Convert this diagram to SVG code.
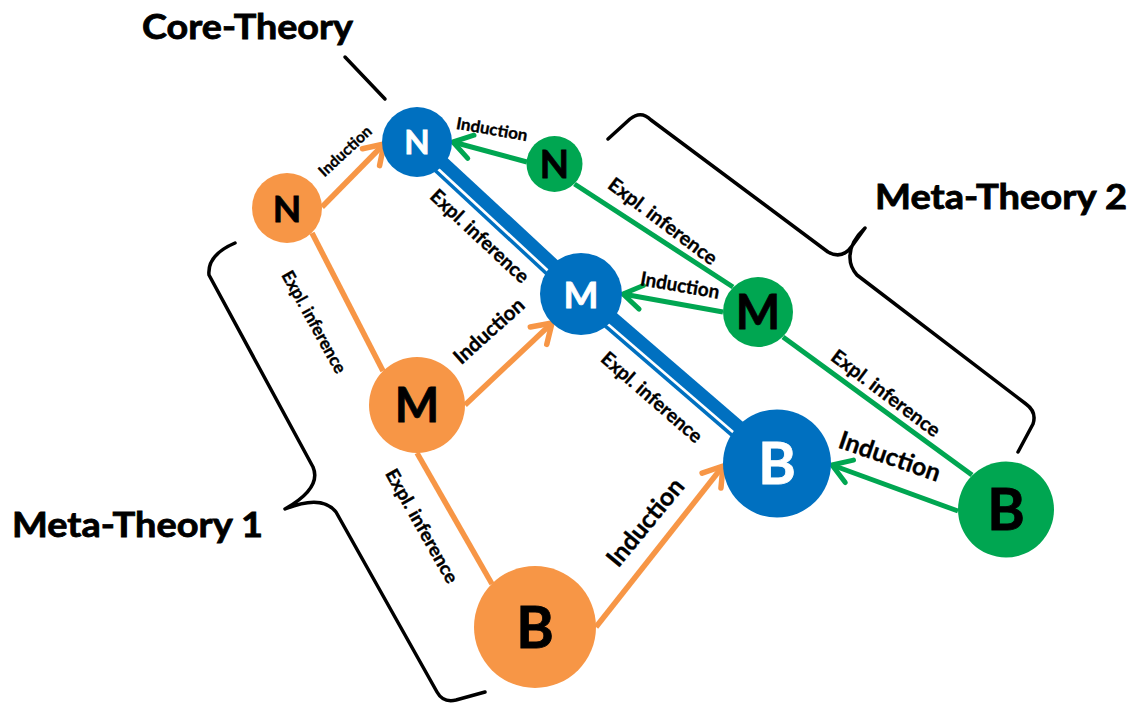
<svg xmlns="http://www.w3.org/2000/svg" width="1133" height="704" viewBox="0 0 1133 704">
  <style>
    .ttl { font-family: Lato, "Liberation Sans", sans-serif; font-weight: bold; font-size: 34px; fill: #000; stroke: #000; stroke-width: 0.8px; }
    .lbl { font-family: Lato, "Liberation Sans", sans-serif; font-weight: bold; fill: #000; stroke: #000; stroke-width: 0.35px; text-anchor: middle; }
    .ltr { font-family: Lato, "Liberation Sans", sans-serif; font-weight: bold; text-anchor: middle; stroke-width: 0.8px; }
    .brace { fill: none; stroke: #000; stroke-width: 3.5; stroke-linecap: round; stroke-linejoin: round; }
    .orange { fill: #F79646; }
    .blue { fill: #0070C0; }
    .green { fill: #00A651; }
    .c-or { stroke: #F79646; stroke-width: 5.5; fill: none; }
    .c-gr { stroke: #00A651; stroke-width: 5; fill: none; }
    .c-bl { stroke: #0070C0; fill: none; }
  </style>
  <defs>
    <marker id="arrOr" markerUnits="userSpaceOnUse" viewBox="-24 -16 28 32" refX="0" refY="0" markerWidth="28" markerHeight="32" orient="auto">
      <path d="M -18.5,-12 L 0,0 L -18.5,12" fill="none" stroke="#F79646" stroke-width="5.5" stroke-linecap="round" stroke-linejoin="round"/>
    </marker>
    <marker id="arrGr" markerUnits="userSpaceOnUse" viewBox="-24 -16 28 32" refX="0" refY="0" markerWidth="28" markerHeight="32" orient="auto">
      <path d="M -18.5,-12 L 0,0 L -18.5,12" fill="none" stroke="#00A651" stroke-width="5" stroke-linecap="round" stroke-linejoin="round"/>
    </marker>
  </defs>

  <!-- theory titles and braces -->
  <g id="core-theory">
    <text class="ttl" x="142" y="39" textLength="211" lengthAdjust="spacingAndGlyphs">Core-Theory</text>
    <line x1="345" y1="57" x2="385" y2="99" class="brace"/>
  </g>
  <g id="meta-theory-1">
    <text class="ttl" x="12" y="537" textLength="251" lengthAdjust="spacingAndGlyphs">Meta-Theory 1</text>
    <path class="brace" d="M 235,243 Q 207,255 209,275 L 313,467 Q 322,488 285,509 Q 322,494 336,512 L 437,692 Q 443,703 456,700 L 485,692"/>
  </g>
  <g id="meta-theory-2">
    <text class="ttl" x="875" y="209" textLength="252" lengthAdjust="spacingAndGlyphs">Meta-Theory 2</text>
    <path class="brace" d="M 608,139 L 630,119 Q 641,110 651,120 L 828,252 Q 842,260 852,246 L 865,228 Q 849,243 850,258 Q 850,267 857,275 L 1026,404 Q 1037,412 1033,424 L 1018,452"/>
  </g>

  <!-- connectors -->
  <g id="connectors">
    <!-- core theory: thick band with a thin companion line -->
    <line class="c-bl" x1="418.7" y1="140.2" x2="582.7" y2="292.2" stroke-width="13"/>
    <line class="c-bl" x1="411.2" y1="148.2" x2="575.2" y2="300.2" stroke-width="3.5"/>
    <line class="c-bl" x1="582.6" y1="292.1" x2="778.6" y2="461.1" stroke-width="13"/>
    <line class="c-bl" x1="575.5" y1="300.4" x2="771.5" y2="469.4" stroke-width="3.5"/>

    <!-- meta-theory 1 -->
    <line class="c-or" x1="312" y1="233" x2="383" y2="371"/>
    <line class="c-or" x1="417" y1="453" x2="492" y2="584"/>
    <line class="c-or" x1="322" y1="207" x2="384" y2="144" marker-end="url(#arrOr)"/>
    <line class="c-or" x1="465" y1="405" x2="552" y2="323" marker-end="url(#arrOr)"/>
    <line class="c-or" x1="596" y1="627" x2="723" y2="466" marker-end="url(#arrOr)"/>

    <!-- meta-theory 2 -->
    <line class="c-gr" x1="574.5" y1="184" x2="733" y2="287"/>
    <line class="c-gr" x1="783" y1="337" x2="972" y2="475"/>
    <line class="c-gr" x1="527" y1="162" x2="453" y2="142" marker-end="url(#arrGr)"/>
    <line class="c-gr" x1="723" y1="312" x2="623" y2="294" marker-end="url(#arrGr)"/>
    <line class="c-gr" x1="958" y1="511" x2="832" y2="465" marker-end="url(#arrGr)"/>
  </g>

  <!-- connector labels -->
  <g id="labels">
    <text class="lbl" transform="translate(345,151) rotate(-43)" y="5.5" font-size="15.5" textLength="66" lengthAdjust="spacingAndGlyphs">Induction</text>
    <text class="lbl" transform="translate(492,129) rotate(10)" y="6" font-size="16.5" textLength="72" lengthAdjust="spacingAndGlyphs">Induction</text>
    <text class="lbl" transform="translate(680,285) rotate(10)" y="7" font-size="19.5" textLength="80" lengthAdjust="spacingAndGlyphs">Induction</text>
    <text class="lbl" transform="translate(489,331) rotate(-42)" y="7" font-size="20.5" textLength="87" lengthAdjust="spacingAndGlyphs">Induction</text>
    <text class="lbl" transform="translate(890,456) rotate(19)" y="9" font-size="25" textLength="106" lengthAdjust="spacingAndGlyphs">Induction</text>
    <text class="lbl" transform="translate(645,522) rotate(-50.5)" y="9" font-size="25" textLength="106" lengthAdjust="spacingAndGlyphs">Induction</text>

    <text class="lbl" transform="translate(314,322) rotate(61)" y="6" font-size="17.5" textLength="114" lengthAdjust="spacingAndGlyphs">Expl. inference</text>
    <text class="lbl" transform="translate(422,526) rotate(60.5)" y="6.5" font-size="18.5" textLength="128" lengthAdjust="spacingAndGlyphs">Expl. inference</text>
    <text class="lbl" transform="translate(480,236) rotate(43)" y="7" font-size="19.5" textLength="127" lengthAdjust="spacingAndGlyphs">Expl. inference</text>
    <text class="lbl" transform="translate(652,397) rotate(41)" y="7" font-size="19.5" textLength="127" lengthAdjust="spacingAndGlyphs">Expl. inference</text>
    <text class="lbl" transform="translate(663,221) rotate(37)" y="7" font-size="19.5" textLength="131" lengthAdjust="spacingAndGlyphs">Expl. inference</text>
    <text class="lbl" transform="translate(886,393) rotate(37)" y="7" font-size="19.5" textLength="131" lengthAdjust="spacingAndGlyphs">Expl. inference</text>
  </g>

  <!-- core theory nodes -->
  <g id="core-N">
    <circle class="blue" cx="417" cy="142" r="35"/>
    <text class="ltr" x="417" y="154" font-size="33" fill="#fff" stroke="#fff">N</text>
  </g>
  <g id="core-M">
    <circle class="blue" cx="581" cy="294" r="41"/>
    <text class="ltr" x="581" y="307.5" font-size="37" fill="#fff" stroke="#fff">M</text>
  </g>
  <g id="core-B">
    <circle class="blue" cx="777" cy="463.5" r="54"/>
    <text class="ltr" x="777" y="484" font-size="57" fill="#fff" stroke="#fff">B</text>
  </g>

  <!-- meta-theory 1 nodes -->
  <g id="meta1-N">
    <circle class="orange" cx="287" cy="208" r="35"/>
    <text class="ltr" x="287" y="221.5" font-size="37" fill="#000" stroke="#000">N</text>
  </g>
  <g id="meta1-M">
    <circle class="orange" cx="417" cy="405" r="48"/>
    <text class="ltr" x="417" y="422" font-size="47" fill="#000" stroke="#000">M</text>
  </g>
  <g id="meta1-B">
    <circle class="orange" cx="535" cy="627" r="61"/>
    <text class="ltr" x="535" y="647.5" font-size="57" fill="#000" stroke="#000">B</text>
  </g>

  <!-- meta-theory 2 nodes -->
  <g id="meta2-N">
    <circle class="green" cx="554.5" cy="164" r="28"/>
    <text class="ltr" x="554.5" y="178" font-size="38" fill="#000" stroke="#000">N</text>
  </g>
  <g id="meta2-M">
    <circle class="green" cx="758" cy="312" r="35"/>
    <text class="ltr" x="758" y="329" font-size="47" fill="#000" stroke="#000">M</text>
  </g>
  <g id="meta2-B">
    <circle class="green" cx="1006" cy="509.5" r="48"/>
    <text class="ltr" x="1006" y="530" font-size="57" fill="#000" stroke="#000">B</text>
  </g>
</svg>
